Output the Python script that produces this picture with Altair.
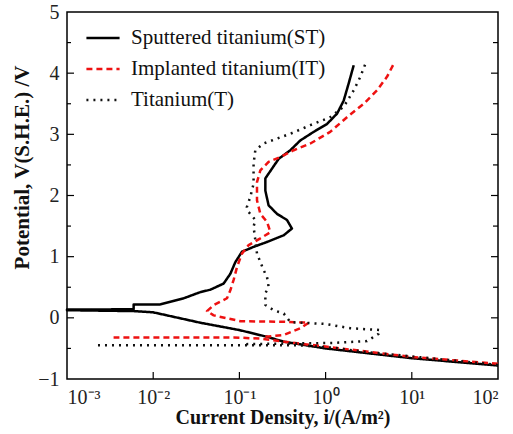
import altair as alt
import pandas as pd

# Sputtered titanium (ST): current density (A/m^2) and potential (V)
st_i = [100, 10, 1, 0.327, 0.209, 0.1, 0.0352, 0.0145, 0.01, 0.00593, 0.001,
        0.001, 0.00593, 0.00593, 0.0121, 0.0226, 0.0352, 0.046, 0.0656, 0.0785, 0.0897,
        0.107, 0.146, 0.209, 0.327, 0.407, 0.356, 0.273, 0.218, 0.200, 0.200, 0.239,
        0.286, 0.390, 0.509, 0.727, 1.04, 1.36, 1.62, 1.85, 2.12]
st_e = [-0.78, -0.66, -0.50, -0.39, -0.31, -0.20, -0.08, 0.04, 0.09, 0.11, 0.125,
        0.135, 0.14, 0.22, 0.22, 0.32, 0.42, 0.46, 0.56, 0.72, 0.91,
        1.08, 1.16, 1.24, 1.35, 1.46, 1.60, 1.70, 1.84, 2.08, 2.28, 2.44,
        2.60, 2.74, 2.90, 3.04, 3.17, 3.34, 3.55, 3.83, 4.13]
st_seg = [0] * len(st_i)

# Implanted titanium (IT)
it_i = [100, 10, 1, 0.327, 0.175, 0.0857, 0.00347,
        0.2, 0.327, 0.509, 0.637,
        0.327, 0.103, 0.0504, 0.0421, 0.0504, 0.0718, 0.0785, 0.0857, 0.0938, 0.107,
        0.128, 0.175, 0.229, 0.209, 0.175, 0.160, 0.160, 0.175, 0.218, 0.299, 0.427,
        0.666, 1.13, 1.77, 2.77, 3.95, 5.15, 6.16]
it_e = [-0.75, -0.64, -0.47, -0.39, -0.34, -0.32, -0.32,
        -0.31, -0.28, -0.17, -0.08,
        -0.065, -0.055, 0.04, 0.11, 0.21, 0.32, 0.45, 0.62, 0.83, 1.05,
        1.19, 1.30, 1.40, 1.57, 1.70, 1.92, 2.22, 2.41, 2.55, 2.63, 2.74,
        2.85, 3.04, 3.28, 3.50, 3.72, 3.94, 4.15]
it_seg = [0] * 7 + [1] * (len(it_i) - 7)

# Titanium (T)
ti_i = [100, 10, 3.02, 1.24, 0.509, 0.00204,
        0.12, 1.24, 3.02, 4.13, 4.32, 1.94, 0.993,
        0.390, 0.327, 0.25, 0.200, 0.200, 0.218, 0.209, 0.191, 0.160, 0.153, 0.146,
        0.153, 0.128, 0.122, 0.134, 0.146, 0.146, 0.153, 0.191, 0.273, 0.390, 0.666,
        1.13, 1.62, 2.12, 2.53, 2.89]
ti_e = [-0.77, -0.63, -0.56, -0.49, -0.45, -0.45,
        -0.43, -0.41, -0.38, -0.26, -0.20, -0.17, -0.10,
        -0.07, 0.07, 0.125, 0.21, 0.40, 0.51, 0.67, 0.78, 1.05, 1.27, 1.49,
        1.60, 1.73, 1.81, 1.98, 2.19, 2.52, 2.74, 2.85, 2.93, 3.01, 3.15,
        3.28, 3.45, 3.72, 3.94, 4.15]
ti_seg = [0] * 6 + [1] * (len(ti_i) - 6)

series_names = ["Sputtered titanium(ST)", "Implanted titanium(IT)", "Titanium(T)"]
x_ticks = [0.001, 0.01, 0.1, 1, 10, 100]
y_ticks = [-1, 0, 1, 2, 3, 4, 5]
y_minor = [-0.5, 0.5, 1.5, 2.5, 3.5, 4.5]

rows = []
for name, xs, ys, segs in zip(series_names, [st_i, it_i, ti_i], [st_e, it_e, ti_e],
                              [st_seg, it_seg, ti_seg]):
    for k, (a, b, s) in enumerate(zip(xs, ys, segs)):
        rows.append({"series": name, "i": a, "E": b, "k": k, "seg": f"{name}-{s}"})
df = pd.DataFrame(rows)

W, H = 431, 367
FONT = "Liberation Serif"

xscale = alt.Scale(type="log", domain=[0.001, 100], nice=False)
yscale = alt.Scale(domain=[-1, 5], nice=False)

label_expr = ("datum.value < 0.005 ? '10⁻³' : datum.value < 0.05 ? '10⁻²' : "
              "datum.value < 0.5 ? '10⁻¹' : datum.value < 5 ? '10⁰' : "
              "datum.value < 50 ? '10¹' : '10²'")

legend_cfg = dict(title=None, orient="none", legendX=18, legendY=8,
                  labelFont=FONT, labelFontSize=21, labelColor="#111", labelLimit=0,
                  symbolType="stroke", symbolSize=1100,
                  symbolStrokeWidth=2.5, rowPadding=3, labelOffset=10)

lines = alt.Chart(df).mark_line(strokeCap="butt", strokeJoin="round").encode(
    x=alt.X("i:Q", scale=xscale,
            axis=alt.Axis(values=x_ticks, labelExpr=label_expr, grid=False, tickSize=0,
                          domain=False, labelPadding=8, labelFontSize=20, labelFont=FONT,
                          labelColor="#222",
                          title="Current Density, i/(A/m²)", titleFont=FONT,
                          titleFontSize=20, titleFontWeight="bold", titlePadding=0,
                          titleColor="#111")),
    y=alt.Y("E:Q", scale=yscale,
            axis=alt.Axis(values=y_ticks, format="d", grid=False, tickSize=0, domain=False,
                          labelPadding=8, labelFontSize=20, labelFont=FONT,
                          labelColor="#222",
                          title="Potential, V(S.H.E.) /V", titleFont=FONT,
                          titleFontSize=21, titleFontWeight="bold", titlePadding=5,
                          titleY=155, titleColor="#111")),
    order="k:Q",
    detail="seg:N",
    color=alt.Color("series:N", scale=alt.Scale(domain=series_names,
                                                range=["#000000", "#ee1111", "#111111"]),
                    sort=series_names, legend=alt.Legend(**legend_cfg)),
    strokeDash=alt.StrokeDash("series:N",
                              scale=alt.Scale(domain=series_names,
                                              range=[[1, 0], [6, 4], [2, 5]]),
                              sort=series_names, legend=alt.Legend(**legend_cfg)),
    strokeWidth=alt.StrokeWidth("series:N",
                                scale=alt.Scale(domain=series_names, range=[2.5, 2.5, 1.6]),
                                legend=None),
)

xt = pd.DataFrame({"v": x_ticks[1:-1]})
bottom_ticks = alt.Chart(xt).mark_rule(color="black", strokeWidth=1.2).encode(
    x=alt.X("v:Q", scale=xscale), y=alt.value(H), y2=alt.value(H - 7))

yt = pd.DataFrame({"v": y_ticks[1:-1]})
left_ticks = alt.Chart(yt).mark_rule(color="black", strokeWidth=1.2).encode(
    y=alt.Y("v:Q", scale=yscale), x=alt.value(0), x2=alt.value(7))
right_ticks = alt.Chart(yt).mark_rule(color="black", strokeWidth=1.2).encode(
    y=alt.Y("v:Q", scale=yscale), x=alt.value(W), x2=alt.value(W - 7))
ym = pd.DataFrame({"v": y_minor})
right_minor = alt.Chart(ym).mark_rule(color="black", strokeWidth=1.2).encode(
    y=alt.Y("v:Q", scale=yscale), x=alt.value(W), x2=alt.value(W - 5))
left_minor = alt.Chart(ym).mark_rule(color="black", strokeWidth=1.2).encode(
    y=alt.Y("v:Q", scale=yscale), x=alt.value(0), x2=alt.value(4))

chart = alt.layer(bottom_ticks, left_ticks, right_ticks, right_minor, left_minor, lines).properties(
    width=W, height=H,
    autosize=alt.AutoSizeParams(type="none"),
    padding={"left": 67, "top": 12, "right": 15, "bottom": 55},
    background="white",
).configure_view(stroke="black", strokeWidth=1.5)

chart.save("out.html", embed_options={"renderer": "svg", "actions": False})
